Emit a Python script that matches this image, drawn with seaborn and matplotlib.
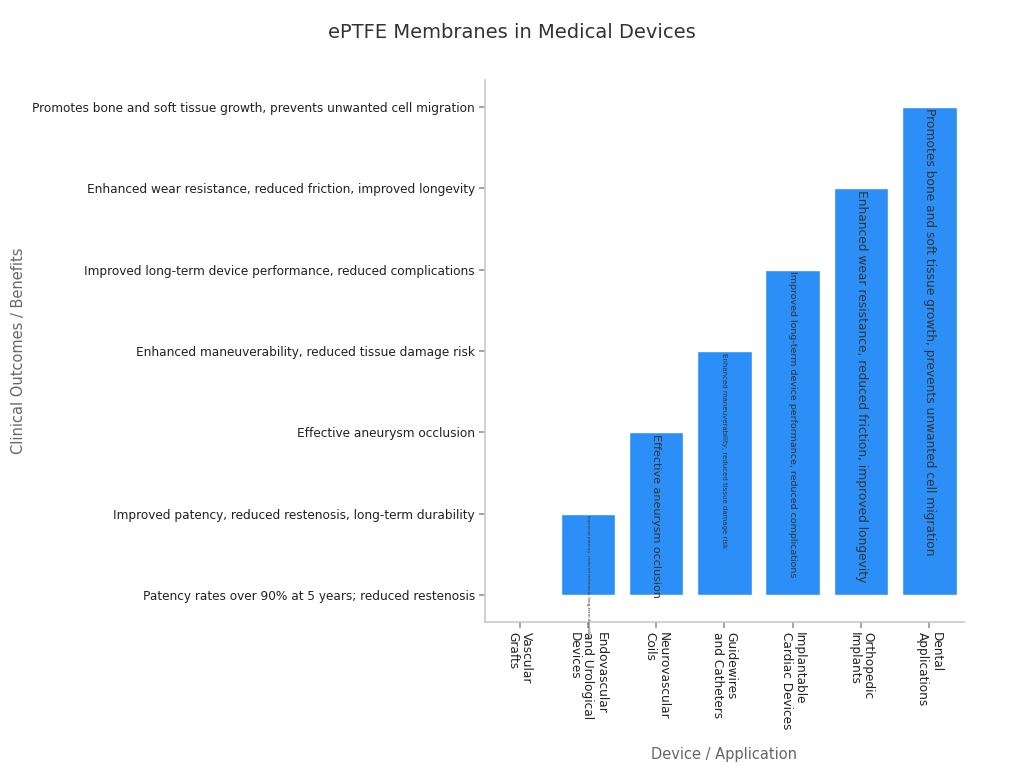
import matplotlib
matplotlib.use("Agg")
import matplotlib.pyplot as plt
import seaborn as sns
import pandas as pd

devices = ["Vascular\nGrafts", "Endovascular\nand Urological\nDevices", "Neurovascular\nCoils",
           "Guidewires\nand Catheters", "Implantable\nCardiac Devices", "Orthopedic\nImplants",
           "Dental\nApplications"]
outcomes = ["Patency rates over 90% at 5 years; reduced restenosis",
            "Improved patency, reduced restenosis, long-term durability",
            "Effective aneurysm occlusion",
            "Enhanced maneuverability, reduced tissue damage risk",
            "Improved long-term device performance, reduced complications",
            "Enhanced wear resistance, reduced friction, improved longevity",
            "Promotes bone and soft tissue growth, prevents unwanted cell migration"]
values = [0, 1, 2, 3, 4, 5, 6]
label_sizes = [3, 3, 8, 5, 6.8, 8.8, 8.8]

df = pd.DataFrame({"device": devices, "value": values})
sns.set_theme(style="white")
fig = plt.figure(figsize=(10.24, 7.68), dpi=100)
ax = fig.add_axes([0.474, 0.19, 0.467, 0.706])
sns.barplot(data=df, x="device", y="value", color="#2b8ff7", width=0.8, ax=ax, saturation=1)
ax.set_ylim(-0.33, 6.33)
ax.set_xlim(-0.5, 6.5)
ax.set_yticks(range(len(outcomes)))
ax.set_yticklabels(outcomes, fontsize=8.7, color="#222222")
ax.set_xticks(range(len(devices)))
ax.set_xticklabels(devices, rotation=270, fontsize=8.7, color="#222222", va="top", ha="center",
                   multialignment="left", linespacing=1.05)
ax.tick_params(axis="both", length=4, color="#999999", left=True, bottom=True)
for s in ["top", "right"]:
    ax.spines[s].set_visible(False)
for s in ["left", "bottom"]:
    ax.spines[s].set_color("#cccccc")
for i, v in enumerate(values):
    if v > 0:
        ax.text(i, v - 0.02, outcomes[v], rotation=270, ha="center", va="top",
                fontsize=label_sizes[i], color="#333333")
ax.set_xlabel("Device / Application", fontsize=10.5, color="#666666", labelpad=12)
ax.set_ylabel("Clinical Outcomes / Benefits", fontsize=10.5, color="#666666")
ax.yaxis.set_label_coords(-0.96, 0.5)
fig.suptitle("ePTFE Membranes in Medical Devices", fontsize=14, color="#333333", y=0.97)
fig.savefig("out.png", dpi=100)
